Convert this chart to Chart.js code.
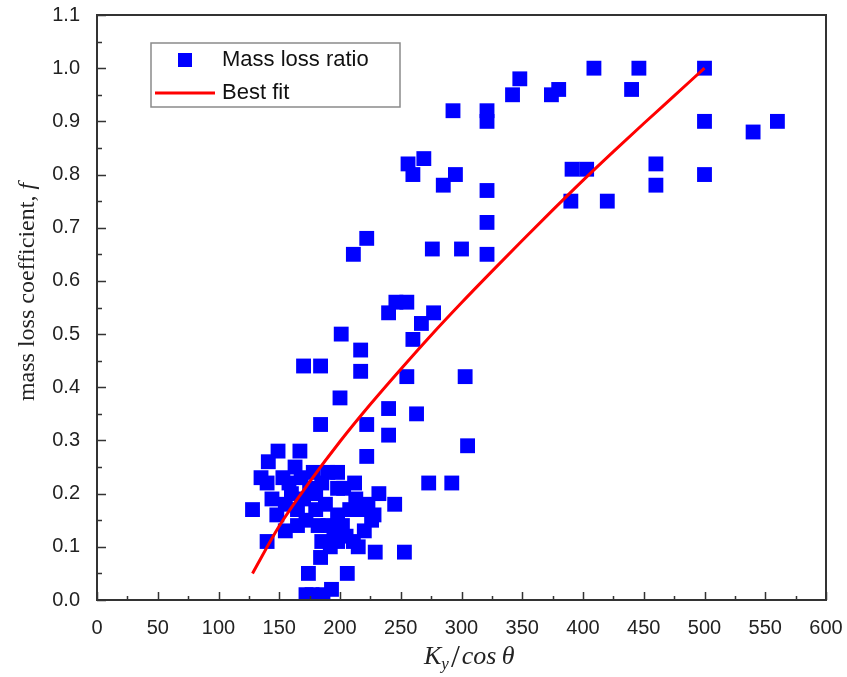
<!DOCTYPE html>
<html>
<head>
<meta charset="utf-8">
<script src="https://cdn.jsdelivr.net/npm/chart.js@4/dist/chart.umd.min.js"></script>
<style>
  body { margin: 0; background: #fff; }
  #wrap { width: 847px; height: 677px; }
</style>
</head>
<body>
<div id="wrap"><canvas id="chart" width="847" height="677"></canvas></div>
<script>
// measured points (Ky/cos theta, mass loss coefficient f)
const massX = [
  256, 269, 260, 285, 295, 321, 321, 222, 211, 276, 300, 321, 293, 321, 321, 342, 348, 374, 380,
  409, 446, 440, 500, 500, 540, 560, 391, 403, 390, 420, 460, 460, 500,
  246, 255, 240, 277, 267, 260, 201, 217, 170, 184, 217, 200, 255, 303, 240, 263, 184, 222, 240,
  305, 222, 273, 292,
  149, 167, 141, 163, 135, 140, 153, 178, 144, 128, 148, 155, 155, 140, 184, 174, 177, 198, 212,
  198, 232, 245, 208, 226, 198, 205, 211, 198, 229, 253, 206, 193,
  158, 160, 165, 168, 170, 172, 175, 180, 182, 185, 188, 190, 192, 195, 186, 172, 213, 218, 220,
  215, 202, 165, 185, 180, 223, 228, 203, 190
];
const massY = [
  0.82, 0.83, 0.80, 0.78, 0.80, 0.77, 0.71, 0.68, 0.65, 0.66, 0.66, 0.65, 0.92, 0.92, 0.90, 0.95, 0.98, 0.95, 0.96,
  1.00, 1.00, 0.96, 1.00, 0.90, 0.88, 0.90, 0.81, 0.81, 0.75, 0.75, 0.82, 0.78, 0.80,
  0.56, 0.56, 0.54, 0.54, 0.52, 0.49, 0.50, 0.47, 0.44, 0.44, 0.43, 0.38, 0.42, 0.42, 0.36, 0.35, 0.33, 0.33, 0.31,
  0.29, 0.27, 0.22, 0.22,
  0.28, 0.28, 0.26, 0.25, 0.23, 0.22, 0.23, 0.24, 0.19, 0.17, 0.16, 0.18, 0.13, 0.11, 0.08, 0.05, 0.01, 0.24, 0.22,
  0.21, 0.20, 0.18, 0.17, 0.15, 0.16, 0.12, 0.11, 0.11, 0.09, 0.09, 0.05, 0.02,
  0.22, 0.20, 0.17, 0.23, 0.19, 0.15, 0.21, 0.17, 0.14, 0.22, 0.18, 0.14, 0.10, 0.12, 0.01, 0.01, 0.19, 0.17, 0.13,
  0.10, 0.14, 0.14, 0.11, 0.20, 0.18, 0.16, 0.21, 0.24
];

// best fit curve
const fitX = [128, 150, 175, 200, 225, 250, 275, 300, 325, 350, 375, 400, 425, 450, 475, 500];
const fitY = [0.05, 0.139, 0.222, 0.298, 0.368, 0.434, 0.498, 0.559, 0.618, 0.676, 0.733, 0.789, 0.843, 0.896, 0.948, 1.0];

const seriesNames = ["Mass loss ratio", "Best fit"];

const sans = "'Liberation Sans', Arial, sans-serif";
const serif = "'Liberation Serif', 'Times New Roman', serif";

// frame, inward ticks, legend and axis titles
const decor = {
    id: "decor",
    afterDraw(chart) {
        const ctx = chart.ctx;
        const a = chart.chartArea;
        const x = chart.scales.x, y = chart.scales.y;
        ctx.save();
        ctx.strokeStyle = "#333";
        ctx.lineWidth = 2;
        ctx.strokeRect(a.left, a.top, a.right - a.left, a.bottom - a.top);

        ctx.lineWidth = 1.5;
        ctx.beginPath();
        for (let i = 0; i <= 24; i++) {
            const px = Math.round(x.getPixelForValue(i * 25)) + 0.5;
            const len = i % 2 === 0 ? 8 : 4;
            ctx.moveTo(px, a.bottom);
            ctx.lineTo(px, a.bottom - len);
        }
        for (let i = 0; i <= 22; i++) {
            const py = Math.round(y.getPixelForValue(i * 0.05)) + 0.5;
            const len = i % 2 === 0 ? 9 : 5;
            ctx.moveTo(a.left, py);
            ctx.lineTo(a.left + len, py);
        }
        ctx.stroke();

        // legend
        ctx.fillStyle = "#fff";
        ctx.fillRect(151, 43, 249, 64);
        ctx.strokeStyle = "#8a8a8a";
        ctx.lineWidth = 1.5;
        ctx.strokeRect(151, 43, 249, 64);
        ctx.fillStyle = "#0000ff";
        ctx.fillRect(178, 53, 14, 14);
        ctx.strokeStyle = "#ff0000";
        ctx.lineWidth = 3;
        ctx.beginPath();
        ctx.moveTo(155, 93);
        ctx.lineTo(215, 93);
        ctx.stroke();
        ctx.fillStyle = "#111";
        ctx.font = "22px " + sans;
        ctx.textBaseline = "middle";
        ctx.textAlign = "left";
        ctx.fillText(seriesNames[0], 222, 60);
        ctx.fillText(seriesNames[1], 222, 93);

        // x title: K_y / cos θ
        ctx.fillStyle = "#222";
        ctx.textBaseline = "alphabetic";
        let cx = 424;
        const base = 664;
        ctx.font = "italic 26px " + serif;
        ctx.fillText("K", cx, base);
        cx += ctx.measureText("K").width;
        ctx.font = "italic 17px " + serif;
        ctx.fillText("y", cx, base + 5);
        cx += ctx.measureText("y").width + 2;
        ctx.font = "32px " + serif;
        ctx.fillText("/", cx, base + 3);
        cx += ctx.measureText("/").width + 2;
        ctx.font = "italic 26px " + serif;
        ctx.fillText("cos\u2009\u03b8", cx, base);

        // y title
        ctx.translate(28, 292);
        ctx.rotate(-Math.PI / 2);
        ctx.font = "24px " + serif;
        const t1 = "mass loss coefficient, ";
        const w1 = ctx.measureText(t1).width;
        ctx.font = "italic 24px " + serif;
        const w2 = ctx.measureText("f").width;
        let sx = -(w1 + w2) / 2;
        ctx.font = "24px " + serif;
        ctx.textBaseline = "middle";
        ctx.fillText(t1, sx, 0);
        ctx.font = "italic 24px " + serif;
        ctx.fillText("f", sx + w1, 0);
        ctx.restore();
    }
};

const massPts = massX.map((v, i) => ({ x: v, y: massY[i] }));
const fitPts = fitX.map((v, i) => ({ x: v, y: fitY[i] }));

new Chart(document.getElementById("chart"), {
    type: "scatter",
    data: {
        datasets: [
            {
                label: seriesNames[0],
                data: massPts,
                pointStyle: "rect",
                pointRadius: 10.5,
                pointHoverRadius: 10.5,
                backgroundColor: "#0000ff",
                borderColor: "#0000ff",
                borderWidth: 0,
                order: 1,
            },
            {
                label: seriesNames[1],
                data: fitPts,
                showLine: true,
                pointRadius: 0,
                borderColor: "#ff0000",
                borderWidth: 3,
                cubicInterpolationMode: "monotone",
                order: 0,
            },
        ],
    },
    options: {
        responsive: false,
        animation: false,
        layout: { padding: { left: 0, top: 15, right: 21, bottom: 0 } },
        plugins: { legend: { display: false }, tooltip: { enabled: false } },
        scales: {
            x: {
                type: "linear",
                min: 0,
                max: 600,
                ticks: { stepSize: 50, color: "#222", padding: 8, font: { family: sans, size: 20 } },
                grid: { display: false },
                border: { display: false },
                afterFit: (s) => {
                    s.height = 77;
                    s.paddingLeft = 0;
                    s.paddingRight = 0;
                },
            },
            y: {
                min: 0,
                max: 1.1,
                ticks: {
                    stepSize: 0.1,
                    color: "#222",
                    padding: 9,
                    font: { family: sans, size: 20 },
                    callback: (v) => Number(v).toFixed(1),
                },
                grid: { display: false },
                border: { display: false },
                afterFit: (s) => {
                    s.width = 97;
                    s.paddingTop = 0;
                    s.paddingBottom = 0;
                },
            },
        },
    },
    plugins: [decor],
});
</script>
</body>
</html>
